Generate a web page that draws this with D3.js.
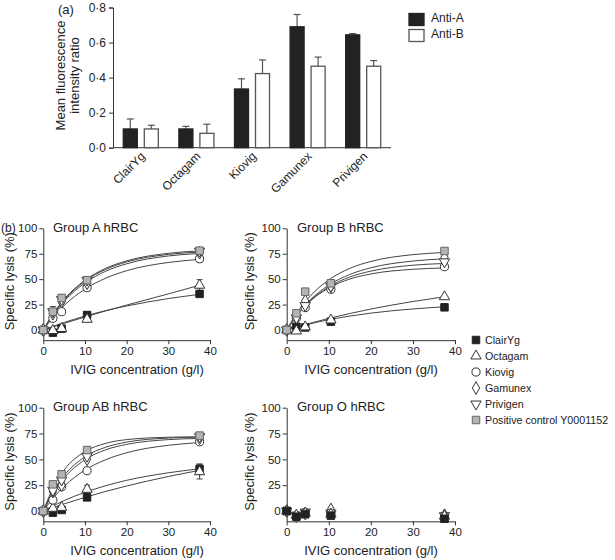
<!DOCTYPE html>
<html><head><meta charset="utf-8">
<script src="https://cdn.jsdelivr.net/npm/d3@7"></script>
<style>
body{margin:0;background:#fff}
svg{display:block}
text{font-family:"Liberation Sans",Arial,sans-serif;fill:#222}
</style>
</head><body><svg id="c" width="615" height="560"></svg>
<script>
// ---------- Panel (a) data ----------
const products = ["ClairYg","Octagam","Kiovig","Gamunex","Privigen"];
const antiA    = [0.107, 0.107, 0.335, 0.690, 0.644];
const antiAErr = [0.057, 0.015, 0.058, 0.070, 0.007];
const antiB    = [0.107, 0.082, 0.423, 0.465, 0.465];
const antiBErr = [0.021, 0.052, 0.078, 0.052, 0.032];
const barTicks = [0, 0.2, 0.4, 0.6, 0.8];
const barLegend = ["Anti-A","Anti-B"];

// ---------- Panel (b) data ----------
const conc = [0, 2.3, 4.4, 10.5, 37.5];
const seriesNames = ["ClairYg","Octagam","Kiovig","Gamunex","Privigen","Positive control Y0001152"];
const lysisTicks = [0, 25, 50, 75, 100];
const concTicks = [0, 10, 20, 30, 40];
const groupTitles = ["Group A hRBC","Group B hRBC","Group AB hRBC","Group O hRBC"];

// rows follow seriesNames order
const lysisA = [
  [0, -2.6, 1.3, 14.7, 35.5],
  [0, -0.5, 1.5, 10.5, 44],
  [0, 11.5, 18, 41.6, 70],
  [0, 16, 28, 46, 76],
  [0, 18, 30, 49, 77.5],
  [0, 18, 31.5, 49, 78]
];
const errA = [
  [0, 1, 1, 3.5, 2.5],
  [0, 0, 0, 2, 5.5],
  [0, 2, 1, 1, 3],
  [0, 3, 2, 2, 2],
  [0, 3, 2, 2, 2],
  [0, 5, 3, 2, 1.5]
];
const lysisB = [
  [0, 3.2, 2.5, 8.2, 22.3],
  [0, -1, 3, 9.8, 32.7],
  [0, 12, 22, 40, 62.2],
  [0, 13, 28.5, 43, 71.5],
  [0, 12, 24, 43, 67],
  [0, 16.4, 37.7, 45.9, 77.7]
];
const errB = [
  [0, 1, 1, 1, 1],
  [0, 1, 1, 1, 1],
  [0, 1, 1, 1, 1.5],
  [0, 1, 1, 1, 1],
  [0, 1, 1, 1, 1],
  [0, 1, 1, 1, 1]
];
const lysisAB = [
  [0, -1.6, 1, 13.2, 40.6],
  [0, 2.6, 3.5, 21, 38],
  [0, 10.6, 23.5, 39, 67],
  [0, 18.7, 25, 50, 70.4],
  [0, 20, 30, 53, 72],
  [0, 25.8, 35.5, 59, 73]
];
const errAB = [
  [0, 1, 1, 2, 5],
  [0, 1, 1, 4, 7],
  [0, 2, 2, 2, 2],
  [0, 2, 2, 2, 2],
  [0, 2, 2, 2, 2],
  [0, 2, 2, 2, 1.5]
];
const lysisO = [
  [0, -5.5, -3, -4.5, -7.5],
  [0, -4, -2, -3, -5],
  [0, -4.5, -1.5, -2, -5],
  [0, -5, -2.5, 1.5, -4],
  [0, -4, -1, -2, -4.5],
  [0, -5, -3, -3.5, -6]
];
const errO = [
  [0, 1, 1, 1, 1],
  [0, 1, 1, 1, 1],
  [0, 1, 1, 1, 1],
  [0, 1, 1, 1, 1],
  [0, 1, 1, 1, 1],
  [0, 1, 1, 1, 1]
];

// fitted curves at these concentrations
const fitX = [0, 2.5, 5, 10, 15, 20, 30, 37.5];
const fitA = [
  [0, 3.8, 7.4, 13.7, 19.1, 23.6, 30.9, 35],
  [0, 3.3, 6.5, 12.8, 18.8, 24.5, 35.5, 44],
  [0, 13.2, 24.1, 40.2, 51, 58.3, 66.4, 69.4],
  [0, 15.7, 28.2, 46.3, 57.8, 65.1, 72.8, 75.3],
  [0, 16.5, 29.5, 48, 59.6, 66.9, 74.3, 76.6],
  [0, 16.9, 30.2, 49, 60.7, 68, 75.4, 77.8]
];
const fitB = [
  [0, 3, 5.6, 10.1, 13.7, 16.6, 20.7, 22.8],
  [0, 3.1, 6, 11.4, 16.2, 20.6, 28, 32.7],
  [0, 14.9, 26.2, 41.3, 50.1, 55.1, 59.7, 61],
  [0, 15.2, 27.2, 44.1, 54.6, 61.2, 67.8, 70],
  [0, 14.8, 26.3, 42.4, 52.1, 57.9, 63.7, 65.4],
  [0, 17.3, 30.7, 49.3, 60.6, 67.4, 74.1, 76.2]
];
const fitAB = [
  [0, 3.5, 6.9, 13.2, 19, 24.2, 33.4, 39.3],
  [0, 5.3, 10.1, 18.1, 24.5, 29.7, 37, 40.8],
  [0, 13.2, 23.9, 39.6, 49.7, 56.4, 63.6, 66.2],
  [0, 18.4, 32, 49.6, 59.3, 64.5, 69.1, 70.2],
  [0, 20, 34.4, 52.4, 61.8, 66.7, 70.6, 71.5],
  [0, 23.7, 39.7, 57.5, 65.5, 69.1, 71.4, 71.8]
];

// ---------- drawing ----------
const svg = d3.select("#c");
const AX = "#333";

// Panel (a)
(function(){
  const x0 = d3.scaleBand().domain(products).range([113, 391]).paddingInner(0.37).paddingOuter(0.185);
  const x1 = d3.scaleBand().domain([0,1]).range([0, x0.bandwidth()]).paddingInner(0.333);
  const y = d3.scaleLinear().domain([0, 0.8]).range([147.7, 7.5]);
  const fmt = d => d3.format(".1f")(d).replace(".", "\u00B7");
  const g = svg.append("g");
  const yAx = g.append("g").attr("transform","translate(113,0)")
    .call(d3.axisLeft(y).tickValues(barTicks).tickFormat(fmt).tickSize(4).tickPadding(3));
  yAx.select(".domain").attr("stroke",AX);
  yAx.selectAll(".tick line").attr("stroke",AX);
  yAx.selectAll("text").style("font-size","12px").style("font-family","Liberation Sans, Arial, sans-serif").attr("fill","#222");
  g.append("line").attr("x1",113).attr("x2",391).attr("y1",y(0)).attr("y2",y(0)).attr("stroke",AX);

  const sets = [{v:antiA,e:antiAErr,fill:"#222"},{v:antiB,e:antiBErr,fill:"#fff"}];
  sets.forEach((s,si)=>{
    products.forEach((p,i)=>{
      const bx = x0(p)+x1(si), bw = x1.bandwidth(), cx = bx+bw/2;
      const top = y(s.v[i]+s.e[i]);
      g.append("line").attr("x1",cx).attr("x2",cx).attr("y1",y(s.v[i])).attr("y2",top).attr("stroke","#555").attr("stroke-width",1.2);
      g.append("line").attr("x1",cx-3.5).attr("x2",cx+3.5).attr("y1",top).attr("y2",top).attr("stroke","#555").attr("stroke-width",1.2);
      g.append("rect").attr("x",bx).attr("y",y(s.v[i])).attr("width",bw).attr("height",y(0)-y(s.v[i]))
        .attr("fill",s.fill).attr("stroke", si===0?"#222":"#555").attr("stroke-width",1.3);
    });
  });
  products.forEach(p=>{
    const cx = x0(p)+x0.bandwidth()/2;
    g.append("text").attr("transform",`translate(${cx+5},${157}) rotate(-45)`)
      .attr("text-anchor","end").style("font-size","12px").text(p);
  });
  g.append("text").attr("transform","translate(65,75.5) rotate(-90)").attr("text-anchor","middle")
    .style("font-size","13px").text("Mean fluorescence");
  g.append("text").attr("transform","translate(79,75.5) rotate(-90)").attr("text-anchor","middle")
    .style("font-size","13px").text("intensity ratio");
  g.append("text").attr("x",58).attr("y",14).style("font-size","13px").text("(a)");
  barLegend.forEach((t,i)=>{
    g.append("rect").attr("x",409).attr("y",13.5+i*16).attr("width",15).attr("height",12)
      .attr("fill", i===0?"#222":"#fff").attr("stroke", i===0?"#222":"#555").attr("stroke-width",1.3);
    g.append("text").attr("x",431).attr("y",22+i*16).style("font-size","12px").text(t);
  });
})();

// Panel (b)
const symTypes = [
  {t:d3.symbolSquare, s:56, fill:"#222", stroke:"#222", rot:0},
  {t:d3.symbolTriangle, s:46, fill:"#fff", stroke:"#333", rot:0},
  {t:d3.symbolCircle, s:52, fill:"#fff", stroke:"#333", rot:0},
  {t:d3.symbolDiamond, s:46, fill:"#fff", stroke:"#333", rot:0},
  {t:d3.symbolTriangle, s:46, fill:"#fff", stroke:"#333", rot:180},
  {t:d3.symbolSquare, s:56, fill:"#b4b4b4", stroke:"#666", rot:0}
];
function marker(sel, i, x, y){
  const st = symTypes[i];
  sel.append("path").attr("d", d3.symbol().type(st.t).size(st.s)())
    .attr("transform",`translate(${x},${y}) rotate(${st.rot})`)
    .attr("fill",st.fill).attr("stroke",st.stroke).attr("stroke-width",1);
}

const panels = [
  {data:lysisA, err:errA, fit:fitA, x:[43.3,210], y:[330,228.3], title:[53,231.5], xt:137, yt:13.5},
  {data:lysisB, err:errB, fit:fitB, x:[286.7,455], y:[330,228.3], title:[297,231.5], xt:371, yt:254},
  {data:lysisAB, err:errAB, fit:fitAB, x:[43.3,210], y:[511,407.7], title:[53,410.5], xt:137, yt:13.5},
  {data:lysisO, err:errO, fit:null, x:[286.7,455], y:[511,407.7], title:[297,410.5], xt:371, yt:254}
];

panels.forEach((P,pi)=>{
  const x = d3.scaleLinear().domain([0,40]).range(P.x);
  const y = d3.scaleLinear().domain([0,100]).range(P.y);
  const yBot = y(-10);
  const g = svg.append("g");
  const yAx = g.append("g").attr("transform",`translate(${P.x[0]},0)`)
    .call(d3.axisLeft(y.copy().domain([-10,100]).range([yBot, y(100)])).tickValues(lysisTicks).tickSize(4).tickPadding(2).tickSizeOuter(0));
  const xAx = g.append("g").attr("transform",`translate(0,${yBot})`)
    .call(d3.axisBottom(x).tickValues(concTicks).tickSize(4).tickPadding(3).tickSizeOuter(0));
  [yAx,xAx].forEach(a=>{
    a.select(".domain").attr("stroke",AX);
    a.selectAll(".tick line").attr("stroke",AX);
    a.selectAll("text").style("font-size","11.5px").style("font-family","Liberation Sans, Arial, sans-serif").attr("fill","#222");
  });
  g.append("text").attr("x",P.title[0]).attr("y",P.title[1]).style("font-size","13px").text(groupTitles[pi]);
  g.append("text").attr("x",P.xt).attr("y",yBot+34).attr("text-anchor","middle").style("font-size","13px").text("IVIG concentration (g/l)");
  g.append("text").attr("transform",`translate(${P.yt},${(y(100)+yBot)/2 - 3}) rotate(-90)`).attr("text-anchor","middle")
    .style("font-size","13px").text("Specific lysis (%)");

  if(P.fit){
    const line = d3.line().x((d,i)=>x(fitX[i])).y(d=>y(d)).curve(d3.curveMonotoneX);
    P.fit.forEach(f=>{
      g.append("path").attr("d",line(f)).attr("fill","none").attr("stroke","#444").attr("stroke-width",1);
    });
  }
  P.data.forEach((row,si)=>{
    row.forEach((v,j)=>{
      const e = P.err[si][j];
      if(e>1.2){
        const cx = x(conc[j]);
        g.append("line").attr("x1",cx).attr("x2",cx).attr("y1",y(v-e)).attr("y2",y(v+e)).attr("stroke","#444");
        [v-e,v+e].forEach(w=>g.append("line").attr("x1",cx-3).attr("x2",cx+3).attr("y1",y(w)).attr("y2",y(w)).attr("stroke","#444"));
      }
    });
  });
  const order = pi===3 ? [5,4,3,2,1,0] : [0,1,2,3,4,5];
  order.forEach(si=>{
    P.data[si].forEach((v,j)=> marker(g, si, x(conc[j]), y(v)));
  });
});

// legend (b)
seriesNames.forEach((n,i)=>{
  const cy = 340 + i*16;
  marker(svg, i, 476, cy);
  svg.append("text").attr("x",485).attr("y",cy+4).style("font-size","10.7px").text(n);
});
svg.append("text").attr("x",1).attr("y",232).style("font-size","12px").text("(b)");
</script>
</body></html>
